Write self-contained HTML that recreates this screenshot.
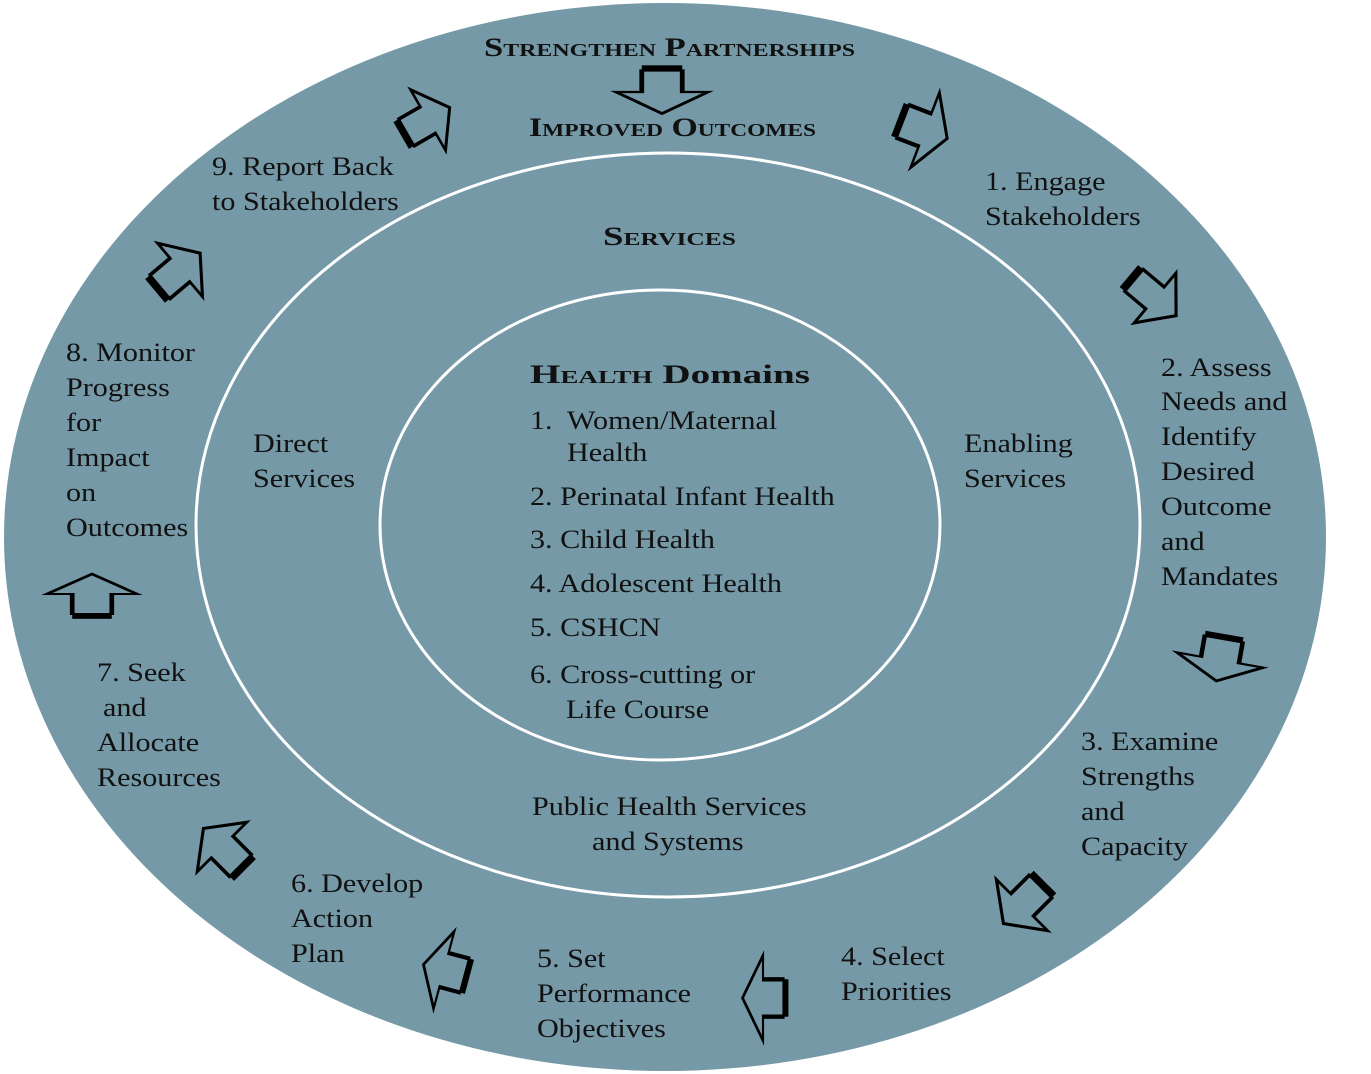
<!DOCTYPE html>
<html><head><meta charset="utf-8"><style>
html,body{margin:0;padding:0;background:#fff;}
svg{display:block;}
text{font-family:"Liberation Serif","DejaVu Serif",serif;font-size:26px;fill:#111;}
text.b{transform-box:fill-box;transform-origin:0 50%;transform:scaleX(1.16);}
.h{font-weight:bold;font-variant:small-caps;}
</style></head><body>
<svg width="1371" height="1074" viewBox="0 0 1371 1074" xmlns="http://www.w3.org/2000/svg">
<defs>
<g id="arr">
<polygon points="-25,-11 0,-11 0,-25 25,0 0,25 0,11 -25,11" fill="none" stroke="#000" stroke-width="2.6" stroke-linejoin="miter"/>
<rect x="-31" y="-11" width="6" height="22" fill="#000"/>
</g>
</defs>
<ellipse cx="665" cy="537" rx="661" ry="534" fill="#7599a6"/>
<ellipse cx="668" cy="525" rx="472" ry="372" fill="none" stroke="#fff" stroke-width="3"/>
<ellipse cx="660" cy="525" rx="280" ry="235" fill="none" stroke="#fff" stroke-width="3"/>

<use href="#arr" transform="translate(662,92) rotate(90) scale(0.86,1.84)"/>
<use href="#arr" transform="translate(428,120) rotate(-30) scale(1.0,1.4)"/>
<use href="#arr" transform="translate(925,130) rotate(21) scale(0.95,1.6)"/>
<use href="#arr" transform="translate(1155,298) rotate(40) scale(1.1,1.3)"/>
<use href="#arr" transform="translate(1220,660) rotate(100) scale(0.85,1.75)"/>
<use href="#arr" transform="translate(1022,905) rotate(135) scale(1.05,1.45)"/>
<use href="#arr" transform="translate(763,998) rotate(180) scale(0.82,1.7)"/>
<use href="#arr" transform="translate(444,970) rotate(195) scale(0.85,1.6)"/>
<use href="#arr" transform="translate(222,847) rotate(225) scale(1.05,1.4)"/>
<use href="#arr" transform="translate(92,594) rotate(270) scale(0.8,1.8)"/>
<use href="#arr" transform="translate(180,270) rotate(-40) scale(1.05,1.4)"/>

<text class="h" x="484" y="56" textLength="371" lengthAdjust="spacingAndGlyphs" font-size="34">Strengthen Partnerships</text>
<text class="h" x="529" y="136" textLength="287" lengthAdjust="spacingAndGlyphs" font-size="34">Improved Outcomes</text>
<text class="h" x="603" y="245" textLength="133" lengthAdjust="spacingAndGlyphs" font-size="36">Services</text>
<text x="530" y="383" textLength="280" lengthAdjust="spacingAndGlyphs" font-size="38" font-weight="bold"><tspan style="font-variant:small-caps">Health</tspan> Domains</text>

<text class="b" x="530" y="429">1.</text>
<text class="b" x="567" y="429">Women/Maternal</text>
<text class="b" x="567" y="461">Health</text>
<text class="b" x="530" y="505">2.  Perinatal Infant Health</text>
<text class="b" x="530" y="548">3.  Child Health</text>
<text class="b" x="530" y="592">4.  Adolescent Health</text>
<text class="b" x="530" y="636">5.  CSHCN</text>
<text class="b" x="530" y="683">6.  Cross-cutting or</text>
<text class="b" x="566" y="718">Life Course</text>

<text class="b" x="253" y="452">Direct</text>
<text class="b" x="253" y="487">Services</text>
<text class="b" x="964" y="452">Enabling</text>
<text class="b" x="964" y="487">Services</text>
<text class="b" x="532" y="815">Public Health Services</text>
<text class="b" x="592" y="850">and Systems</text>

<text class="b" x="212" y="175">9.  Report Back</text>
<text class="b" x="212" y="210">to Stakeholders</text>
<text class="b" x="985" y="190">1. Engage</text>
<text class="b" x="985" y="225">Stakeholders</text>
<text class="b" x="1161" y="376">2.  Assess</text>
<text class="b" x="1161" y="410">Needs  and</text>
<text class="b" x="1161" y="445">Identify</text>
<text class="b" x="1161" y="480">Desired</text>
<text class="b" x="1161" y="515">Outcome</text>
<text class="b" x="1161" y="550">and</text>
<text class="b" x="1161" y="585">Mandates</text>
<text class="b" x="1081" y="750">3.  Examine</text>
<text class="b" x="1081" y="785">Strengths</text>
<text class="b" x="1081" y="820">and</text>
<text class="b" x="1081" y="855">Capacity</text>
<text class="b" x="841" y="965">4.  Select</text>
<text class="b" x="841" y="1000">Priorities</text>
<text class="b" x="537" y="967">5.  Set</text>
<text class="b" x="537" y="1002">Performance</text>
<text class="b" x="537" y="1037">Objectives</text>
<text class="b" x="291" y="892">6. Develop</text>
<text class="b" x="291" y="927">Action</text>
<text class="b" x="291" y="962">Plan</text>
<text class="b" x="97" y="681">7.  Seek</text>
<text class="b" x="103" y="716">and</text>
<text class="b" x="97" y="751">Allocate</text>
<text class="b" x="97" y="786">Resources</text>
<text class="b" x="66" y="361">8.  Monitor</text>
<text class="b" x="66" y="396">Progress</text>
<text class="b" x="66" y="431">for</text>
<text class="b" x="66" y="466">Impact</text>
<text class="b" x="66" y="501">on</text>
<text class="b" x="66" y="536">Outcomes</text>
</svg>
</body></html>
